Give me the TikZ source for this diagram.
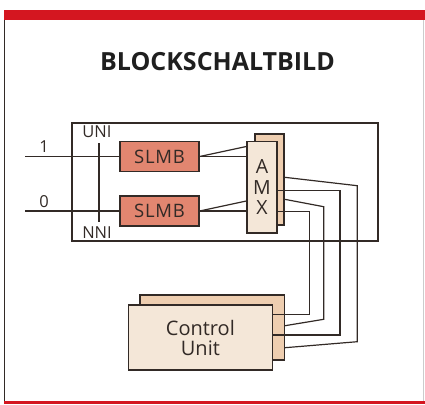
\documentclass[tikz,border=0pt]{standalone}
\usepackage{fontspec}
\setmainfont{Open Sans}
\usetikzlibrary{calc}
\definecolor{signalRed}{RGB}{212,22,32}
\definecolor{inkBrown}{RGB}{50,42,38}
\definecolor{slmbFill}{RGB}{226,134,112}
\definecolor{paleFront}{RGB}{244,231,216}
\definecolor{paleBack}{RGB}{238,206,176}
\tikzset{
  wire/.style={draw=inkBrown,line width=1.2pt},
  unit/.style={draw=inkBrown,line width=1.3pt,inner sep=0pt,text=inkBrown},
  slmbbox/.style={unit,fill=slmbFill,minimum width=79pt,minimum height=30pt,font=\fontsize{18.5}{18.5}\selectfont\addfontfeature{LetterSpace=4}},
  backbox/.style={unit,fill=paleBack},
  frontbox/.style={unit,fill=paleFront,align=center},
  lbl/.style={inner sep=0pt,text=inkBrown,font=\fontsize{16.5}{16.5}\selectfont}
}

\begin{document}
\begin{tikzpicture}[x=1pt,y=-1pt]
\useasboundingbox (0,0) rectangle (425,404);
% Rahmen der Seite
\fill[signalRed] (4,10) rectangle (425,20);
\fill[signalRed] (4,401) rectangle (425,404);
\draw[inkBrown,line width=0.9pt] (4.5,20) -- (4.5,401);
\draw[black!20,line width=0.6pt] (423.5,20) -- (423.5,401);
\node[inner sep=0pt,text=black!88,font=\fontsize{25}{25}\selectfont\bfseries] (title) at (217.5,61.8) {BLOCKSCHALTBILD};

% Geraet
\node[draw=inkBrown,line width=1.2pt,minimum width=306pt,minimum height=118pt] (frame) at (225,182) {};
\node[lbl] (one) at (44,146.2) {1};
\node[lbl] (zero) at (44,201.4) {0};
\node[lbl] (uni) at (97,132) {UNI};
\node[lbl] (nni) at (97,233) {NNI};
\draw[wire] ($(uni.south)+(2,5)$) -- ($(nni.north)+(2,-5)$);
\node[slmbbox] (slmbA) at (159.5,156.5) {SLMB};
\node[slmbbox] (slmbB) at (159.5,211) {SLMB};
\coordinate (inA) at (25,156.5);
\coordinate (inB) at (25,211);
\draw[wire] (inA) -- (slmbA.west);
\draw[wire] (inB) -- (slmbB.west);

% AMX, zwei Ebenen
\node[backbox,minimum width=29pt,minimum height=91pt] (amxB) at (269.5,179.5) {};
\node[frontbox,minimum width=30pt,minimum height=91.5pt,font=\fontsize{19.5}{20.5}\selectfont] (amxF) at (262,187.3) {A\\M\\X};
\foreach \s in {slmbA,slmbB}{
  \draw[wire] (\s.east) -- (\s.east -| amxF.west);
  \draw[wire] (\s.east) -- ($(\s.east -| amxF.west)+(0,-10)$);
}

% Control Unit
\node[backbox,minimum width=144.3pt,minimum height=65pt] (cuB) at (212.2,327.5) {};
\node[frontbox,minimum width=144.2pt,minimum height=65pt,font=\fontsize{20}{20}\selectfont] (cuF) at (200.4,337.5) {Control\\Unit};

\foreach \src/\ys/\yk/\xv/\yl/\ye/\dst in {amxB/177.3/185.7/357.3/341.7/347.7/cuB,
    amxF/190.7/190.7/340/335/335/cuF,
    amxB/199.3/206.7/323.7/319.3/325.7/cuB,
    amxF/211.7/211.7/309.3/314.3/314.3/cuF}
  \draw[wire] (\src.east |- 0,\ys) -- (\xv,\yk) -- (\xv,\yl) -- (\dst.east |- 0,\ye);
\end{tikzpicture}
\end{document}
